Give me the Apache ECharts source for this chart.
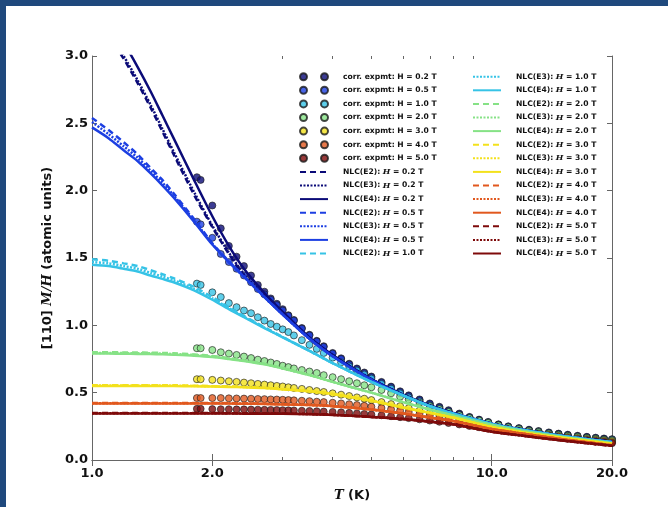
<!DOCTYPE html>
<html><head><meta charset="utf-8">
<script src="https://cdn.jsdelivr.net/npm/echarts@6/dist/echarts.min.js"></script>
<style>html,body{margin:0;padding:0;background:#fff}#c{width:668px;height:507px}</style>
</head><body><div id="c"></div>
<script>
// ---------- data ----------
const fieldLabels = ['0.2','0.5','1.0','2.0','3.0','4.0','5.0'];
const majorT = [1, 2, 10, 20];
const minorT = [3, 4, 5, 6, 7, 8, 9];
const yTicks = [0, 0.5, 1.0, 1.5, 2.0, 2.5, 3.0];

// experimental temperatures (K)
const expT = [1.83,1.87,2.0,2.1,2.2,2.3,2.4,2.5,2.6,2.7,2.8,2.9,3.0,3.1,3.2,3.35,3.5,3.65,3.8,4.0,4.2,4.4,4.6,4.8,5.0,5.3,5.6,5.9,6.2,6.6,7.0,7.4,7.8,8.3,8.8,9.3,9.8,10.4,11.0,11.7,12.4,13.1,13.9,14.7,15.5,16.4,17.3,18.2,19.1,20.0];
const exp02 = [2.10,2.08,1.89,1.72,1.59,1.51,1.44,1.37,1.30,1.25,1.20,1.16,1.12,1.075,1.04,0.98,0.93,0.885,0.845,0.795,0.755,0.715,0.68,0.65,0.62,0.58,0.545,0.51,0.48,0.45,0.42,0.395,0.37,0.345,0.32,0.30,0.283,0.265,0.25,0.237,0.225,0.215,0.205,0.196,0.188,0.18,0.172,0.166,0.16,0.155];
const exp05 = [1.77,1.75,1.65,1.53,1.47,1.42,1.37,1.32,1.27,1.23,1.19,1.15,1.11,1.07,1.035,0.975,0.925,0.88,0.84,0.79,0.75,0.71,0.675,0.645,0.615,0.575,0.54,0.505,0.475,0.445,0.415,0.39,0.365,0.34,0.317,0.297,0.28,0.262,0.247,0.234,0.222,0.212,0.202,0.193,0.185,0.177,0.17,0.163,0.157,0.152];
const exp10 = [1.31,1.30,1.245,1.21,1.165,1.135,1.11,1.09,1.06,1.035,1.01,0.99,0.97,0.95,0.925,0.89,0.855,0.825,0.795,0.76,0.725,0.695,0.665,0.635,0.605,0.565,0.53,0.495,0.465,0.435,0.405,0.38,0.357,0.332,0.31,0.291,0.275,0.258,0.243,0.23,0.218,0.208,0.198,0.189,0.181,0.173,0.166,0.159,0.153,0.148];
const exp20 = [0.83,0.83,0.817,0.80,0.79,0.78,0.768,0.757,0.745,0.735,0.724,0.713,0.70,0.69,0.68,0.668,0.657,0.646,0.63,0.615,0.60,0.585,0.57,0.555,0.54,0.52,0.495,0.47,0.45,0.425,0.40,0.378,0.357,0.333,0.312,0.293,0.276,0.258,0.243,0.23,0.218,0.207,0.197,0.188,0.18,0.172,0.164,0.157,0.151,0.146];
const exp30 = [0.60,0.60,0.595,0.59,0.585,0.58,0.575,0.57,0.565,0.56,0.555,0.55,0.546,0.54,0.535,0.528,0.52,0.512,0.505,0.495,0.485,0.475,0.465,0.455,0.445,0.43,0.415,0.40,0.385,0.367,0.35,0.334,0.318,0.30,0.284,0.27,0.257,0.243,0.23,0.218,0.207,0.197,0.188,0.179,0.171,0.163,0.156,0.15,0.144,0.139];
const exp40 = [0.46,0.46,0.46,0.46,0.458,0.457,0.456,0.455,0.453,0.452,0.45,0.449,0.447,0.445,0.443,0.44,0.437,0.433,0.43,0.425,0.42,0.414,0.408,0.402,0.396,0.386,0.376,0.366,0.356,0.343,0.33,0.317,0.305,0.29,0.276,0.263,0.25,0.237,0.225,0.213,0.202,0.192,0.182,0.173,0.165,0.157,0.15,0.143,0.137,0.131];
const exp50 = [0.38,0.38,0.378,0.377,0.377,0.376,0.376,0.375,0.374,0.373,0.372,0.371,0.37,0.369,0.368,0.366,0.364,0.362,0.36,0.357,0.354,0.35,0.346,0.342,0.338,0.332,0.325,0.318,0.311,0.302,0.293,0.284,0.275,0.264,0.253,0.243,0.233,0.222,0.212,0.202,0.192,0.183,0.174,0.166,0.158,0.151,0.144,0.137,0.131,0.125];

// NLC calculations (E2, E3, E4) sampled at curveT
const curveT = [1.0,1.1,1.2,1.3,1.4,1.5,1.6,1.8,2.0,2.2,2.4,2.7,3.0,3.5,4.0,5.0,6.0,7.0,8.0,10,12,15,20];
const c02_2 = [3.32,3.15,2.98,2.80,2.62,2.44,2.27,1.97,1.73,1.53,1.37,1.215,1.082,0.903,0.777,0.599,0.484,0.405,0.35,0.27,0.225,0.18,0.135];
const c02_3 = [3.34,3.17,3.00,2.82,2.64,2.46,2.29,1.99,1.74,1.54,1.38,1.22,1.085,0.905,0.778,0.60,0.485,0.405,0.35,0.27,0.225,0.18,0.135];
const c02_4 = [3.46,3.28,3.10,2.92,2.74,2.56,2.39,2.08,1.81,1.59,1.42,1.24,1.10,0.91,0.78,0.60,0.485,0.405,0.35,0.27,0.225,0.18,0.135];
const c05_2 = [2.54,2.45,2.36,2.27,2.17,2.08,1.98,1.79,1.61,1.475,1.365,1.212,1.082,0.90,0.77,0.595,0.48,0.40,0.345,0.268,0.222,0.178,0.133];
const c05_3 = [2.51,2.42,2.33,2.245,2.15,2.06,1.965,1.78,1.605,1.47,1.36,1.21,1.08,0.90,0.77,0.595,0.48,0.40,0.345,0.268,0.222,0.178,0.133];
const c05_4 = [2.47,2.39,2.30,2.22,2.13,2.04,1.95,1.77,1.60,1.47,1.36,1.21,1.08,0.90,0.77,0.595,0.48,0.40,0.345,0.268,0.222,0.178,0.133];
const c10_2 = [1.49,1.48,1.46,1.44,1.41,1.38,1.35,1.285,1.21,1.135,1.07,0.986,0.914,0.811,0.72,0.58,0.48,0.40,0.345,0.268,0.222,0.178,0.132];
const c10_3 = [1.47,1.46,1.44,1.42,1.39,1.362,1.335,1.272,1.20,1.128,1.065,0.983,0.912,0.81,0.72,0.58,0.48,0.40,0.345,0.268,0.222,0.178,0.132];
const c10_4 = [1.45,1.44,1.42,1.40,1.37,1.345,1.32,1.26,1.19,1.12,1.06,0.98,0.91,0.81,0.72,0.58,0.48,0.40,0.345,0.268,0.222,0.178,0.132];
const c20_2 = [0.80,0.80,0.799,0.798,0.797,0.795,0.792,0.784,0.773,0.757,0.741,0.714,0.683,0.632,0.581,0.50,0.43,0.375,0.33,0.26,0.215,0.17,0.125];
const c20_3 = [0.795,0.795,0.794,0.793,0.792,0.79,0.787,0.78,0.769,0.753,0.738,0.712,0.682,0.631,0.58,0.50,0.43,0.375,0.33,0.26,0.215,0.17,0.125];
const c20_4 = [0.79,0.79,0.789,0.788,0.787,0.785,0.782,0.775,0.765,0.75,0.735,0.71,0.68,0.63,0.58,0.50,0.43,0.375,0.33,0.26,0.215,0.17,0.125];
const c30_2 = [0.556,0.556,0.556,0.556,0.556,0.556,0.555,0.552,0.549,0.547,0.543,0.537,0.527,0.511,0.49,0.44,0.39,0.35,0.315,0.245,0.205,0.165,0.12];
const c30_3 = [0.553,0.553,0.553,0.553,0.553,0.553,0.552,0.55,0.547,0.545,0.542,0.536,0.526,0.51,0.49,0.44,0.39,0.35,0.315,0.245,0.205,0.165,0.12];
const c30_4 = [0.55,0.55,0.55,0.55,0.55,0.55,0.549,0.547,0.545,0.543,0.54,0.535,0.525,0.51,0.49,0.44,0.39,0.35,0.315,0.245,0.205,0.165,0.12];
const c40_2 = [0.424,0.424,0.424,0.424,0.424,0.424,0.424,0.424,0.424,0.423,0.421,0.418,0.415,0.409,0.40,0.375,0.345,0.315,0.29,0.23,0.195,0.155,0.11];
const c40_3 = [0.422,0.422,0.422,0.422,0.422,0.422,0.422,0.422,0.422,0.421,0.42,0.417,0.414,0.408,0.40,0.375,0.345,0.315,0.29,0.23,0.195,0.155,0.11];
const c40_4 = [0.42,0.42,0.42,0.42,0.42,0.42,0.42,0.42,0.42,0.419,0.418,0.416,0.413,0.408,0.40,0.375,0.345,0.315,0.29,0.23,0.195,0.155,0.11];
const c50_2 = [0.349,0.349,0.349,0.349,0.349,0.349,0.349,0.349,0.349,0.348,0.347,0.346,0.345,0.342,0.336,0.32,0.305,0.285,0.265,0.21,0.18,0.145,0.105];
const c50_3 = [0.347,0.347,0.347,0.347,0.347,0.347,0.347,0.347,0.347,0.347,0.346,0.345,0.344,0.341,0.335,0.32,0.305,0.285,0.265,0.21,0.18,0.145,0.105];
const c50_4 = [0.345,0.345,0.345,0.345,0.345,0.345,0.345,0.345,0.345,0.345,0.344,0.344,0.343,0.34,0.335,0.32,0.305,0.285,0.265,0.21,0.18,0.145,0.105];

// ---------- styles ----------
const fieldColors = ['#0b0b78','#1c3fe2','#36c3e6','#86e286','#f3e11c','#e1581e','#7e0a0a'];
const dashTypes = {E2:[6,4], E3:[2,1.5], E4:'solid'};

const expVals = [exp02, exp05, exp10, exp20, exp30, exp40, exp50];
const nlc = [[c02_2,c02_3,c02_4],[c05_2,c05_3,c05_4],[c10_2,c10_3,c10_4],[c20_2,c20_3,c20_4],[c30_2,c30_3,c30_4],[c40_2,c40_3,c40_4],[c50_2,c50_3,c50_4]];

const series = [];
const legendItems = [];
const twoDots = 'path://M0,7a7,7 0 1,0 14,0a7,7 0 1,0 -14,0zM42,7a7,7 0 1,0 14,0a7,7 0 1,0 -14,0z';
fieldLabels.forEach((f, i) => {
  const name = 'corr. expmt: H = ' + f + ' T';
  series.push({
    name, type: 'scatter', xAxisIndex: 0, yAxisIndex: 0,
    data: expT.map((t, j) => [t, expVals[i][j]]),
    symbol: 'circle', symbolSize: 7,
    itemStyle: {color: fieldColors[i], borderColor: '#1a1a1a', borderWidth: 0.8},
    z: 2
  });
  legendItems.push({name, icon: twoDots});
});
fieldLabels.forEach((f, i) => {
  ['E2','E3','E4'].forEach((e, k) => {
    const name = 'NLC(' + e + '): H = ' + f + ' T';
    series.push({
      name, type: 'line', xAxisIndex: 0, yAxisIndex: 0,
      data: curveT.map((t, j) => [t, nlc[i][k][j]]),
      showSymbol: false, symbol: 'none', smooth: 0.25, clip: true,
      lineStyle: {color: fieldColors[i], width: 2.5, type: dashTypes[e]},
      itemStyle: {color: fieldColors[i]},
      z: 3
    });
    legendItems.push({name, itemStyle: {opacity: 0}});
  });
});

const legendCommon = {
  orient: 'vertical', itemWidth: 28, itemHeight: 7, itemGap: 3.6, padding: 0,
  selectedMode: false,
  formatter: n => n.startsWith('NLC') ? n.replace(': H', ': {i|H}') : n,
  textStyle: {
    fontFamily: 'DejaVu Sans', fontSize: 7.6, fontWeight: 'bold', color: '#111', lineHeight: 10,
    padding: [0, 0, 0, 10],
    rich: {i: {fontFamily: 'DejaVu Serif', fontStyle: 'italic', fontWeight: 'bold', fontSize: 8, lineHeight: 10, color: '#111'}}
  }
};

const axisCol = '#666';
const xBase = {type: 'log', logBase: 10, min: 1, max: 20, splitLine: {show: false}, minorTick: {show: false}, minorSplitLine: {show: false}};
const labelFont = {fontFamily: 'DejaVu Sans', fontWeight: 'bold', fontSize: 13, color: '#111'};

const option = {
  animation: false,
  backgroundColor: '#fff',
  graphic: [
    {type: 'rect', left: 0, top: 0, shape: {width: 668, height: 6}, style: {fill: '#1f497d'}, z: 100},
    {type: 'rect', left: 0, top: 0, shape: {width: 6, height: 507}, style: {fill: '#1f497d'}, z: 100}
  ],
  grid: [
    {left: 92, right: 56, top: 56, bottom: 47},
    {left: 92, right: 56, top: 56, bottom: 47}
  ],
  legend: [
    Object.assign({}, legendCommon, {left: 299, top: 71.7, data: legendItems.slice(0, 14)}),
    Object.assign({}, legendCommon, {left: 472, top: 71.7, data: legendItems.slice(14)})
  ],
  xAxis: [
    Object.assign({}, xBase, {
      gridIndex: 0, position: 'bottom',
      axisLine: {show: true, lineStyle: {color: axisCol, width: 1}},
      axisTick: {show: true, inside: true, length: 6, customValues: majorT, lineStyle: {color: axisCol}},
      axisLabel: Object.assign({show: true, customValues: majorT, formatter: v => Number(v).toFixed(1), margin: 7}, labelFont),
      name: '{i|T} (K)', nameLocation: 'middle', nameGap: 29,
      nameTextStyle: {fontFamily: 'DejaVu Sans', fontWeight: 'bold', fontSize: 13, color: '#111',
        rich: {i: {fontFamily: 'DejaVu Serif', fontStyle: 'italic', fontSize: 13, color: '#111'}}}
    }),
    Object.assign({}, xBase, {
      gridIndex: 0, position: 'top',
      axisLine: {show: true, lineStyle: {color: axisCol, width: 1}},
      axisTick: {show: true, inside: true, length: 6, customValues: majorT, lineStyle: {color: axisCol}},
      axisLabel: {show: false}
    }),
    Object.assign({}, xBase, {
      gridIndex: 1, position: 'bottom',
      axisLine: {show: false},
      axisTick: {show: true, inside: true, length: 3, customValues: minorT, lineStyle: {color: axisCol}},
      axisLabel: {show: false}
    }),
    Object.assign({}, xBase, {
      gridIndex: 1, position: 'top',
      axisLine: {show: false},
      axisTick: {show: true, inside: true, length: 3, customValues: minorT, lineStyle: {color: axisCol}},
      axisLabel: {show: false}
    })
  ],
  yAxis: [
    {
      type: 'value', gridIndex: 0, position: 'left', min: 0, max: 3, interval: 0.5,
      splitLine: {show: false},
      axisLine: {show: true, lineStyle: {color: axisCol, width: 1}},
      axisTick: {show: true, inside: true, length: 5, customValues: yTicks, lineStyle: {color: axisCol}},
      axisLabel: Object.assign({formatter: v => Number(v).toFixed(1), margin: 4}, labelFont),
      name: '[110] {i|M/H} (atomic units)', nameLocation: 'middle', nameRotate: 90, nameGap: 34,
      nameTextStyle: {fontFamily: 'DejaVu Sans', fontWeight: 'bold', fontSize: 13, color: '#111',
        rich: {i: {fontFamily: 'DejaVu Serif', fontStyle: 'italic', fontSize: 13, color: '#111'}}}
    },
    {
      type: 'value', gridIndex: 0, position: 'right', min: 0, max: 3, interval: 0.5,
      splitLine: {show: false},
      axisLine: {show: true, lineStyle: {color: axisCol, width: 1}},
      axisTick: {show: true, inside: true, length: 5, lineStyle: {color: axisCol}},
      axisLabel: {show: false}
    },
    {type: 'value', gridIndex: 1, min: 0, max: 3, show: false}
  ],
  series
};

const chart = echarts.init(document.getElementById('c'), null, {renderer: 'canvas'});
chart.setOption(option);
</script>
</body></html>
